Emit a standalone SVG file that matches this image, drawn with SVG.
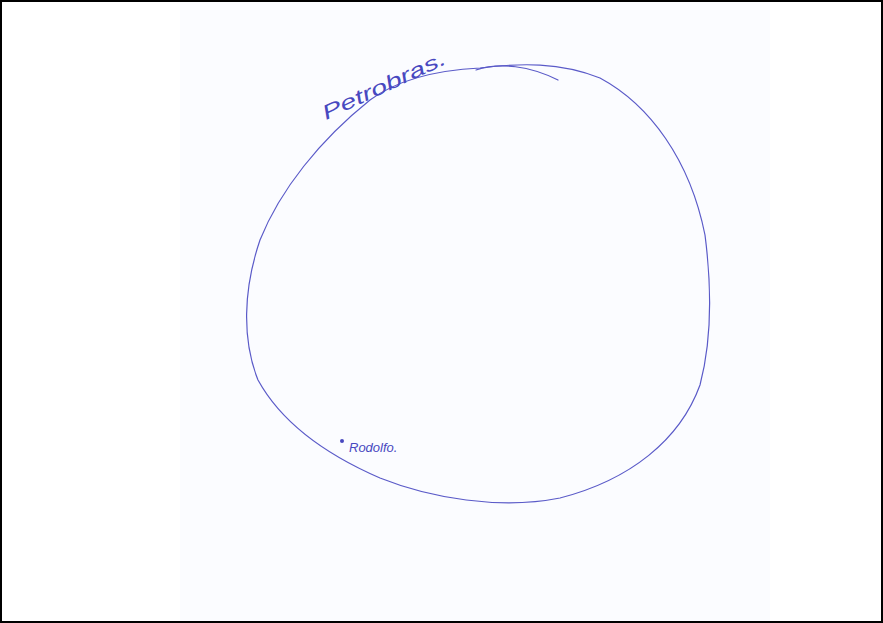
<svg xmlns="http://www.w3.org/2000/svg" width="883" height="623" viewBox="0 0 883 623">
<style>
.pen{fill:none;stroke:#5a5ac8;stroke-width:1.2;stroke-linecap:round;stroke-linejoin:round}
.hand{font-family:"Liberation Sans",Arial,sans-serif;fill:#4848c0;font-style:italic}
</style>
<rect x="0" y="0" width="883" height="623" fill="#ffffff"/>
<rect x="180" y="0" width="590" height="623" fill="#fbfcff"/>
<rect x="1" y="1" width="881" height="621" fill="none" stroke="#000" stroke-width="2"/>
<g id="petrobras">
<path class="pen" d="M480,68 C520,63 560,62 600,78 C650,105 690,160 705,235 C712,290 712,340 700,385 C680,440 630,480 560,498 C500,510 430,498 380,478 C320,452 280,420 258,380 C242,340 243,290 260,240 C280,190 320,140 370,100 C400,78 440,70 480,68 Z"/>
<path class="pen" d="M476,70 C500,62 530,66 558,80"/>
<text class="hand" x="0" y="0" font-size="20" textLength="134" lengthAdjust="spacingAndGlyphs" transform="translate(326,120) rotate(-25)">Petrobras.</text>
</g>
<g id="rodolfo">
<circle cx="342" cy="441" r="2" fill="#4848c0"/>
<text class="hand" x="349" y="452" font-size="13">Rodolfo.</text>
</g>
<g id="connectors"/>
</svg>
